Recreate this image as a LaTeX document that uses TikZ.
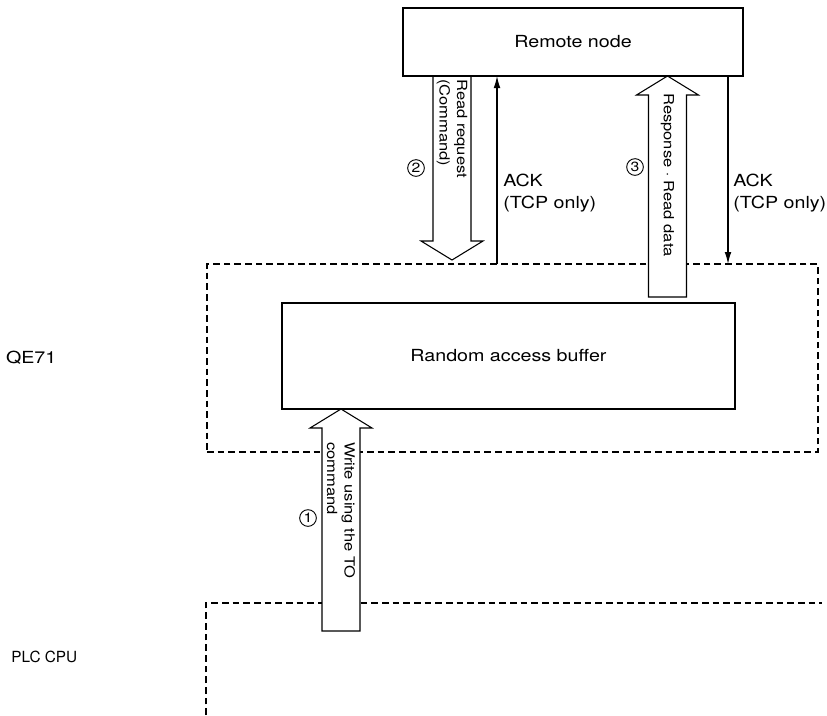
\documentclass[tikz,border=0pt]{standalone}
\usepackage{fontspec}
\setmainfont{TeX Gyre Heros}[FakeStretch=1.18]
\newfontfamily\plainhv{TeX Gyre Heros}
\usetikzlibrary{calc,positioning,arrows.meta,backgrounds}
\tikzset{
  blk/.style={draw,line width=1.5pt,outer sep=0pt,minimum width=#1},
  zone/.style={draw,dash pattern=on 5pt off 3pt,line width=0.9pt,outer sep=0pt},
  fat/.style={draw,line width=0.8pt,fill=white},
  ack/.style={-{Latex[length=9pt,width=5pt]},line width=0.8pt},
  vlbl/.style={rotate=-90,anchor=west,align=left,inner sep=0pt,font=\fontsize{10.5}{13}\selectfont},
  num/.style={circle,draw,line width=0.7pt,inner sep=0pt,minimum size=12.5pt,font=\fontsize{10}{10}\selectfont},
  acklbl/.style={anchor=west,align=left,inner sep=0pt,font=\fontsize{12.5}{17}\selectfont},
}
% hollow block arrow from #1 to #2
\newcommand{\hollow}[2]{%
  \coordinate (hb) at ($(#2)!14.25pt!(#1)$);
  \draw[fat] ($(#1)!14.25pt!90:(#2)$) -- ($(hb)!14.25pt!90:(#2)$) -- ($(hb)!23.25pt!90:(#2)$)
    -- (#2) -- ($(hb)!23.25pt!-90:(#2)$) -- ($(hb)!14.25pt!-90:(#2)$) -- ($(#1)!14.25pt!-90:(#2)$) -- cycle;}

\begin{document}
\begin{tikzpicture}[x=0.75pt,y=-0.75pt,font=\fontsize{12.5}{15}\selectfont]
\useasboundingbox (0,0) rectangle (827,715);

% areas
\begin{scope}[on background layer]
\node[zone,minimum width=458.25pt,minimum height=141pt] (qe) at (512.5,358) {};
\draw[zone] (206,715) -- (206,603) -- (822,603);
\end{scope}
\node[anchor=east] (qelbl) at (61,358) {QE71};
\node[anchor=east,font=\plainhv\fontsize{11.5}{13}\selectfont] (plclbl) at (82,657) {PLC CPU};

% blocks
\node[blk=255pt,minimum height=51pt] (remote) at (573,42) {Remote node};
\node[blk=339.75pt,minimum height=79.5pt] (rab) at (508.5,356) {Random access buffer};

% flows
\coordinate (wr) at (341,631);
\coordinate (wrtip) at (wr |- rab.south);
\coordinate (rq) at (452,260);
\coordinate (rqtop) at (rq |- remote.south);
\coordinate (rs) at (667.5,297);
\coordinate (rstip) at (rs |- remote.south);
\begin{scope}[on background layer]
\hollow{wr}{wrtip}
\hollow{rqtop}{rq}
\hollow{rs}{rstip}
\end{scope}
\node[vlbl] (wrlbl) at (341,442) {Write using the TO\\command};
\node[vlbl] (rqlbl) at (452,79) {Read request\\(Command)};
\node[vlbl] (rslbl) at (667.5,93) {Response $\cdot$ Read data};

\coordinate (ack1) at (497,264);
\coordinate (ack2) at (728,264);
\draw[ack] (ack1) -- (ack1 |- remote.south);
\draw[ack] (ack2 |- remote.south) -- (ack2);
\node[acklbl] (k1) at (503,193) {ACK\\(TCP only)};
\node[acklbl] (k2) at (733,193) {ACK\\(TCP only)};

\node[num] (n1) at (308,518) {1};
\node[num] (n2) at (416,168) {2};
\node[num] (n3) at (635,167) {3};
\end{tikzpicture}
\end{document}
